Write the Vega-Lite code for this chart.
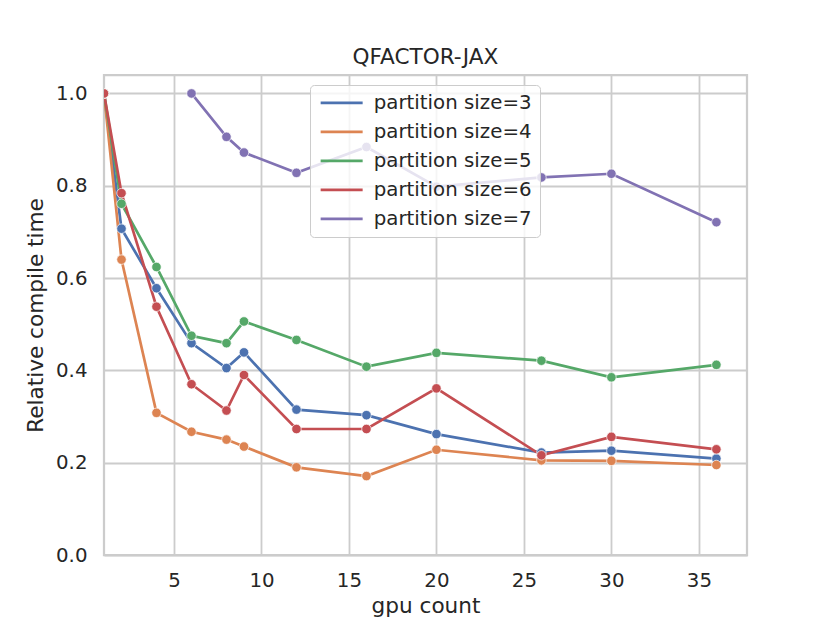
{
  "$schema": "https://vega.github.io/schema/vega-lite/v6.json",
  "width": 643,
  "height": 480,
  "autosize": {"type": "none"},
  "padding": {"left": 104, "top": 75, "right": 83, "bottom": 68},
  "background": "white",
  "title": {
    "text": "QFACTOR-JAX",
    "fontSize": 21.6,
    "fontWeight": "normal",
    "font": "DejaVu Sans",
    "color": "#262626",
    "offset": 6
  },
  "data": {
    "values": [
      {"gpu": 1, "series": "partition size=3", "time": 1.0},
      {"gpu": 2, "series": "partition size=3", "time": 0.707},
      {"gpu": 4, "series": "partition size=3", "time": 0.578},
      {"gpu": 6, "series": "partition size=3", "time": 0.459},
      {"gpu": 8, "series": "partition size=3", "time": 0.405},
      {"gpu": 9, "series": "partition size=3", "time": 0.439},
      {"gpu": 12, "series": "partition size=3", "time": 0.315},
      {"gpu": 16, "series": "partition size=3", "time": 0.303},
      {"gpu": 20, "series": "partition size=3", "time": 0.262},
      {"gpu": 26, "series": "partition size=3", "time": 0.222},
      {"gpu": 30, "series": "partition size=3", "time": 0.226},
      {"gpu": 36, "series": "partition size=3", "time": 0.209},
      {"gpu": 1, "series": "partition size=4", "time": 1.0},
      {"gpu": 2, "series": "partition size=4", "time": 0.640},
      {"gpu": 4, "series": "partition size=4", "time": 0.308},
      {"gpu": 6, "series": "partition size=4", "time": 0.267},
      {"gpu": 8, "series": "partition size=4", "time": 0.250},
      {"gpu": 9, "series": "partition size=4", "time": 0.235},
      {"gpu": 12, "series": "partition size=4", "time": 0.190},
      {"gpu": 16, "series": "partition size=4", "time": 0.171},
      {"gpu": 20, "series": "partition size=4", "time": 0.228},
      {"gpu": 26, "series": "partition size=4", "time": 0.205},
      {"gpu": 30, "series": "partition size=4", "time": 0.204},
      {"gpu": 36, "series": "partition size=4", "time": 0.195},
      {"gpu": 1, "series": "partition size=5", "time": 1.0},
      {"gpu": 2, "series": "partition size=5", "time": 0.761},
      {"gpu": 4, "series": "partition size=5", "time": 0.624},
      {"gpu": 6, "series": "partition size=5", "time": 0.475},
      {"gpu": 8, "series": "partition size=5", "time": 0.459},
      {"gpu": 9, "series": "partition size=5", "time": 0.506},
      {"gpu": 12, "series": "partition size=5", "time": 0.466},
      {"gpu": 16, "series": "partition size=5", "time": 0.408},
      {"gpu": 20, "series": "partition size=5", "time": 0.438},
      {"gpu": 26, "series": "partition size=5", "time": 0.421},
      {"gpu": 30, "series": "partition size=5", "time": 0.385},
      {"gpu": 36, "series": "partition size=5", "time": 0.412},
      {"gpu": 1, "series": "partition size=6", "time": 1.0},
      {"gpu": 2, "series": "partition size=6", "time": 0.784},
      {"gpu": 4, "series": "partition size=6", "time": 0.538},
      {"gpu": 6, "series": "partition size=6", "time": 0.370},
      {"gpu": 8, "series": "partition size=6", "time": 0.313},
      {"gpu": 9, "series": "partition size=6", "time": 0.390},
      {"gpu": 12, "series": "partition size=6", "time": 0.273},
      {"gpu": 16, "series": "partition size=6", "time": 0.273},
      {"gpu": 20, "series": "partition size=6", "time": 0.361},
      {"gpu": 26, "series": "partition size=6", "time": 0.216},
      {"gpu": 30, "series": "partition size=6", "time": 0.256},
      {"gpu": 36, "series": "partition size=6", "time": 0.229},
      {"gpu": 6, "series": "partition size=7", "time": 1.0},
      {"gpu": 8, "series": "partition size=7", "time": 0.906},
      {"gpu": 9, "series": "partition size=7", "time": 0.872},
      {"gpu": 12, "series": "partition size=7", "time": 0.828},
      {"gpu": 16, "series": "partition size=7", "time": 0.884},
      {"gpu": 20, "series": "partition size=7", "time": 0.798},
      {"gpu": 26, "series": "partition size=7", "time": 0.818},
      {"gpu": 30, "series": "partition size=7", "time": 0.826},
      {"gpu": 36, "series": "partition size=7", "time": 0.721}
    ]
  },
  "mark": {
    "type": "line",
    "strokeWidth": 2.7,
    "clip": true,
    "point": {"filled": true, "size": 90, "opacity": 1, "stroke": "white", "strokeWidth": 0.7}
  },
  "encoding": {
    "x": {
      "field": "gpu",
      "type": "quantitative",
      "title": "gpu count",
      "scale": {"domain": [1, 37.75], "nice": false, "zero": false},
      "axis": {"values": [5, 10, 15, 20, 25, 30, 35]}
    },
    "y": {
      "field": "time",
      "type": "quantitative",
      "title": "Relative compile time",
      "scale": {"domain": [0, 1.04], "nice": false},
      "axis": {"values": [0, 0.2, 0.4, 0.6, 0.8, 1.0], "format": ".1f"}
    },
    "color": {
      "field": "series",
      "type": "nominal",
      "scale": {"range": ["#4c72b0", "#dd8452", "#55a868", "#c44e52", "#8172b3"]},
      "legend": {
        "title": null,
        "orient": "none",
        "legendX": 206,
        "legendY": 10,
        "symbolType": "M-1.45,0H6.95",
        "symbolSize": 100,
        "symbolStrokeWidth": 2.7,
        "symbolFillColor": "transparent",
        "labelFontSize": 19.8,
        "labelFont": "DejaVu Sans",
        "labelColor": "#262626",
        "labelOffset": 36,
        "rowPadding": 8,
        "padding": 8,
        "fillColor": "rgba(255,255,255,0.8)",
        "strokeColor": "#cccccc",
        "cornerRadius": 4
      }
    }
  },
  "config": {
    "view": {"stroke": "#cccccc", "strokeWidth": 2.25},
    "axis": {
      "grid": true,
      "gridColor": "#cccccc",
      "gridWidth": 1.8,
      "domain": false,
      "ticks": false,
      "labelFont": "DejaVu Sans",
      "labelFontSize": 19.8,
      "labelColor": "#262626",
      "titleFont": "DejaVu Sans",
      "titleFontSize": 21.6,
      "titleFontWeight": "normal",
      "titleColor": "#262626"
    },
    "axisX": {"labelPadding": 15, "titlePadding": 6},
    "axisY": {"labelPadding": 17, "titlePadding": 8}
  }
}
